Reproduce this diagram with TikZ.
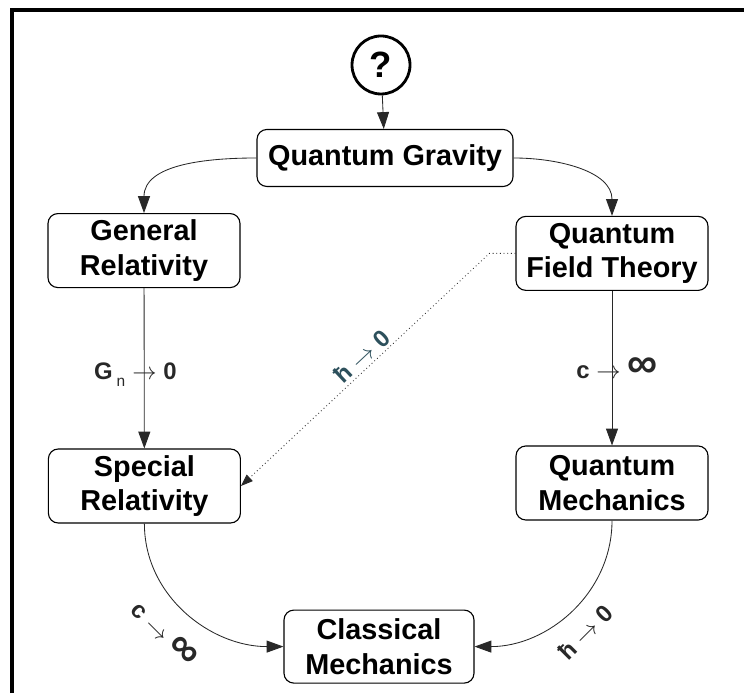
\documentclass[tikz,border=0pt]{standalone}
\usepackage{fontspec}
\setmainfont{Liberation Sans}
\usepackage{tikz}
\usetikzlibrary{shapes.geometric, arrows.meta, positioning, calc}
\definecolor{mydark}{RGB}{40,40,40}
\definecolor{myslate}{RGB}{45,80,92}
\newcommand{\infsym}{{\fontsize{30}{30}\selectfont ∞}}
\newcommand{\tarrow}{\ensuremath{\rightarrow}}
\tikzset{
  theory/.style={rectangle, draw=black, fill=white,
    minimum width=4.8cm, minimum height=1.85cm, align=center,
    font=\fontsize{20.5}{24.5}\selectfont\bfseries,
    rounded corners=7pt, line width=0.8pt, inner sep=2pt},
  unknown/.style={circle, draw=black, fill=white, minimum size=1.45cm,
    font=\fontsize{26}{30}\selectfont\bfseries, line width=2pt, inner sep=0pt},
  limit/.style={font=\fontsize{17}{20}\selectfont\bfseries, inner sep=2pt},
  arrow/.style={-{Triangle[length=0.42cm, width=0.3cm]}, line width=0.6pt, color=mydark},
  dotarrow/.style={-{Triangle[length=0.3cm, width=0.22cm]}, dotted, line width=0.6pt, color=mydark},
  frame/.style={line width=2.9pt, black}
}
\begin{document}
\begin{tikzpicture}
  \useasboundingbox (0,0) rectangle (18.6,17.325);
  % outer frame
  \draw[frame] (0.3,0) |- (18.6,17.075);
  % theories
  \node[unknown] (qmark) at (9.525,15.7) {?};
  \node[theory, minimum width=6.4cm, minimum height=1.425cm] (qg) at (9.625,13.375) {Quantum Gravity};
  \node[theory] (gr) at (3.6,11.06) {General\\Relativity};
  \node[theory] (qft) at (15.3,10.99) {Quantum\\Field Theory};
  \node[theory] (sr) at (3.61,5.175) {Special\\Relativity};
  \node[theory] (qm) at (15.3,5.25) {Quantum\\Mechanics};
  \node[theory, minimum width=4.75cm, minimum height=1.825cm] (cm) at (9.475,1.16) {Classical\\Mechanics};
  % arrows
  \draw[arrow] (qmark) -- (qg);
  \draw[arrow] (qg.west) to[out=180, in=90] (gr.north);
  \draw[arrow] (qg.east) to[out=0, in=90] (qft.north);
  \draw[arrow] (gr) -- node[limit, xshift=-0.22cm, yshift=-0.15cm]
    {G\,\raisebox{-5pt}{\fontsize{11}{11}\selectfont\mdseries n}\hspace{0.3em}\tarrow\ 0} (sr);
  \draw[arrow] (qft) -- node[limit, xshift=0.12cm]
    {c \tarrow\ \raisebox{1pt}{\infsym}} (qm);
  \draw[dotarrow] (qft.west) -- ++(-0.65,0)
    -- node[pos=0.48, sloped, above, limit, text=myslate] {ħ \tarrow\ 0} (sr.east);
  \draw[arrow] (sr.south) to[out=-90, in=180]
    node[pos=0.5, limit, rotate=-45, anchor=north, inner sep=14pt] {c \tarrow\ \infsym} (cm.west);
  \draw[arrow] (qm.south) to[out=-90, in=0]
    node[pos=0.52, limit, rotate=45, anchor=north, inner sep=12pt] {ħ \tarrow\ 0} (cm.east);
\end{tikzpicture}
\end{document}
